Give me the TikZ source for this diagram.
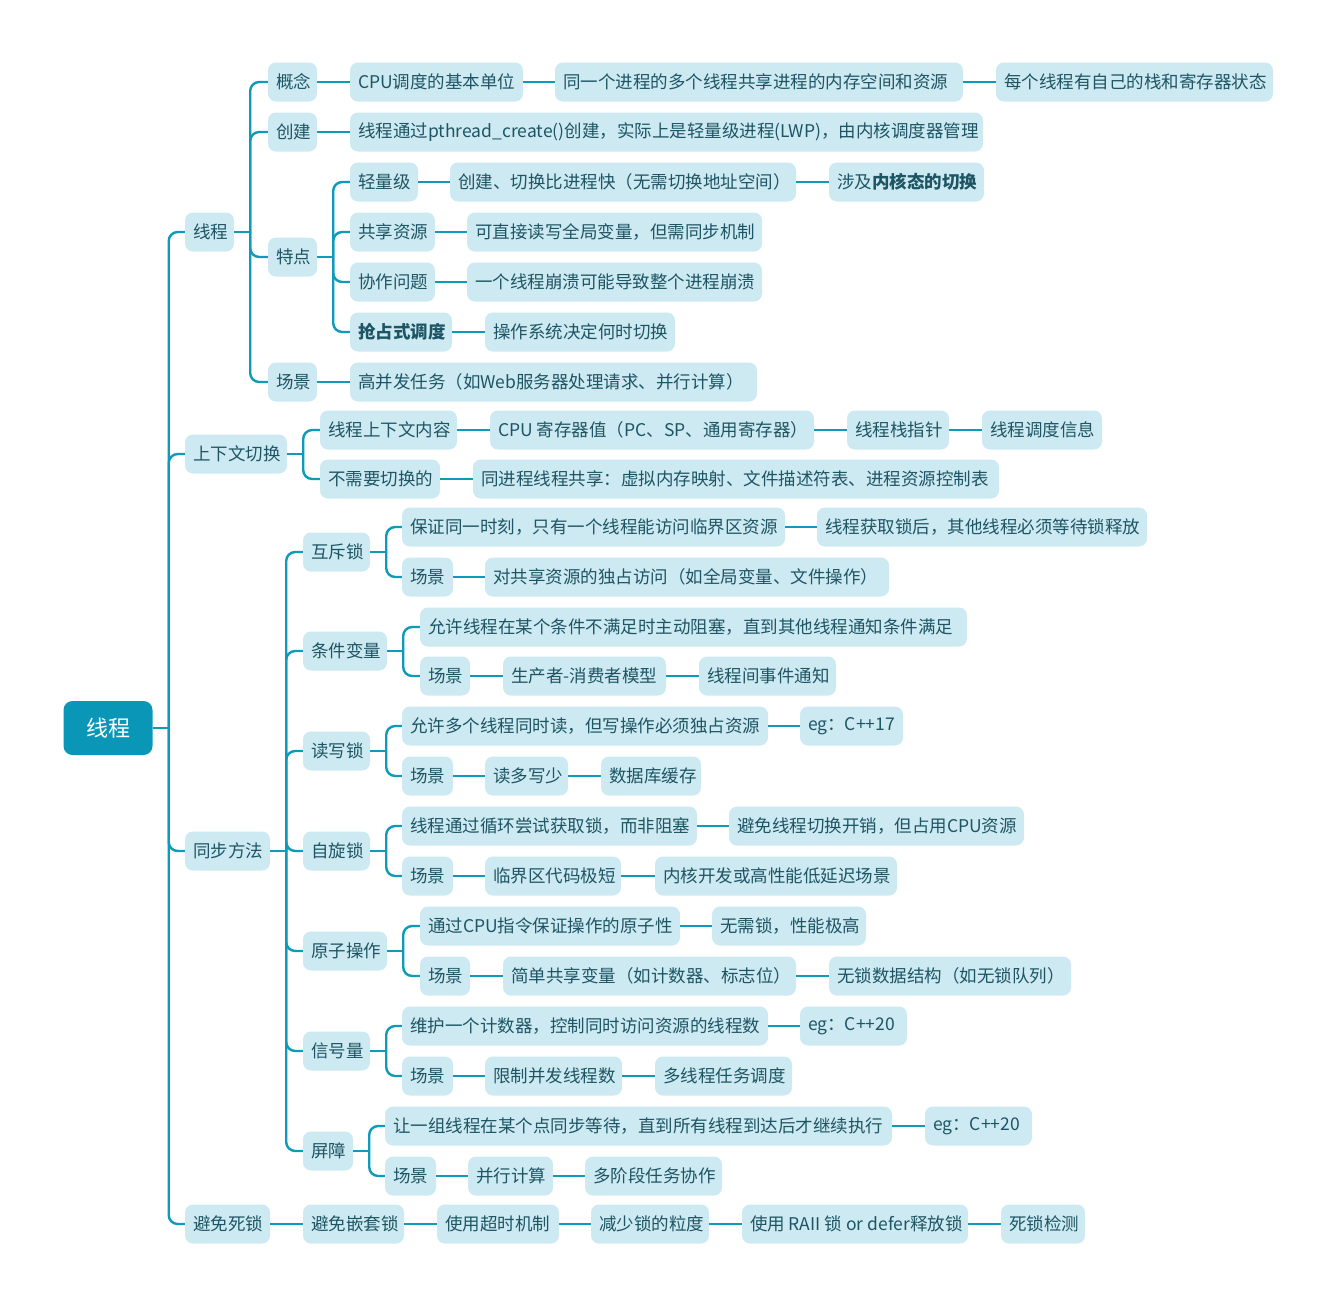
\documentclass[tikz,border=0pt]{standalone}
\usepackage{fontspec}
\setmainfont{Noto Sans CJK SC}
\definecolor{linec}{HTML}{0E9BBA}
\definecolor{boxfill}{HTML}{CDEAF2}
\definecolor{txt}{HTML}{1E5564}
\definecolor{rootfill}{HTML}{0A97B7}
\newcommand\mnode[5]{\node[box] (#1) at ({(#2+#3)/2},#4) {\makebox[\dimexpr #3pt-#2pt-16pt\relax][l]{#5}};}
\newcommand\fork[2]{%
  \coordinate (#1-j) at ([xshift=16pt]#1.east);
  \draw[conn] (#1.east) -- (#1-j);
  \foreach \c in {#2} {\draw[conn, rounded corners=9pt] (#1-j) |- (\c.west);}%
}
\newcommand\chain[1]{\foreach \a/\b in {#1} {\draw[conn] (\a.east) -- (\b.west);}}
\begin{document}
\begin{tikzpicture}[x=1pt,y=-1pt,
  box/.style={fill=boxfill, rounded corners=8pt, minimum height=39pt, inner xsep=8pt, inner ysep=0pt,
    text=txt, font=\fontsize{17.5}{20}\selectfont},
  rootbox/.style={fill=rootfill, rounded corners=9pt, minimum width=89pt, minimum height=54pt,
    text=white, font=\fontsize{22}{26}\selectfont},
  conn/.style={draw=linec, line width=2.4pt}]
\useasboundingbox[fill=white] (0,0) rectangle (1336,1307);

% root
\node[rootbox] (R) at (108,728) {线程};

% level 1
\mnode{A}{185}{234}{232}{线程}
\mnode{B}{185}{287}{454}{上下文切换}
\mnode{C}{185}{270}{851}{同步方法}
\mnode{D}{185}{270}{1224}{避免死锁}

% under A
\mnode{A1}{268}{317}{82}{概念}
\mnode{A1a}{350}{523}{82}{CPU调度的基本单位}
\mnode{A1b}{555}{963}{82}{同一个进程的多个线程共享进程的内存空间和资源}
\mnode{A1c}{996}{1273}{82}{每个线程有自己的栈和寄存器状态}
\mnode{A2}{268}{317}{132}{创建}
\mnode{A2a}{350}{983}{132}{线程通过pthread\_create()创建，实际上是轻量级进程(LWP)，由内核调度器管理}
\mnode{A3}{268}{317}{257}{特点}
\mnode{A3a}{350}{418}{182}{轻量级}
\mnode{A3a1}{450}{796}{182}{创建、切换比进程快（无需切换地址空间）}
\mnode{A3a2}{829}{984}{182}{涉及\textbf{内核态的切换}}
\mnode{A3b}{350}{435}{232}{共享资源}
\mnode{A3b1}{467}{762}{232}{可直接读写全局变量，但需同步机制}
\mnode{A3c}{350}{435}{282}{协作问题}
\mnode{A3c1}{467}{762}{282}{一个线程崩溃可能导致整个进程崩溃}
\mnode{A3d}{350}{452}{332}{\textbf{抢占式调度}}
\mnode{A3d1}{485}{675}{332}{操作系统决定何时切换}
\mnode{A4}{268}{317}{382}{场景}
\mnode{A4a}{350}{757}{382}{高并发任务（如Web服务器处理请求、并行计算）}

% under B
\mnode{B1}{320}{457}{430}{线程上下文内容}
\mnode{B1a}{490}{814}{430}{CPU 寄存器值（PC、SP、通用寄存器）}
\mnode{B1b}{847}{949}{430}{线程栈指针}
\mnode{B1c}{982}{1102}{430}{线程调度信息}
\mnode{B2}{320}{440}{479}{不需要切换的}
\mnode{B2a}{473}{999}{479}{同进程线程共享：虚拟内存映射、文件描述符表、进程资源控制表}

% under C
\mnode{C1}{303}{370}{552}{互斥锁}
\mnode{C1a}{402}{785}{527}{保证同一时刻，只有一个线程能访问临界区资源}
\mnode{C1b}{817}{1147}{527}{线程获取锁后，其他线程必须等待锁释放}
\mnode{C1c}{402}{453}{577}{场景}
\mnode{C1d}{485}{889}{577}{对共享资源的独占访问（如全局变量、文件操作）}

\mnode{C2}{303}{387}{651}{条件变量}
\mnode{C2a}{420}{967}{627}{允许线程在某个条件不满足时主动阻塞，直到其他线程通知条件满足}
\mnode{C2b}{420}{470}{676}{场景}
\mnode{C2c}{503}{666}{676}{生产者-消费者模型}
\mnode{C2d}{699}{836}{676}{线程间事件通知}

\mnode{C3}{303}{370}{751}{读写锁}
\mnode{C3a}{402}{768}{726}{允许多个线程同时读，但写操作必须独占资源}
\mnode{C3b}{800}{903}{726}{eg：C++17}
\mnode{C3c}{402}{453}{776}{场景}
\mnode{C3d}{485}{568}{776}{读多写少}
\mnode{C3e}{601}{701}{776}{数据库缓存}

\mnode{C4}{303}{370}{851}{自旋锁}
\mnode{C4a}{402}{697}{826}{线程通过循环尝试获取锁，而非阻塞}
\mnode{C4b}{729}{1024}{826}{避免线程切换开销，但占用CPU资源}
\mnode{C4c}{402}{453}{876}{场景}
\mnode{C4d}{485}{621}{876}{临界区代码极短}
\mnode{C4e}{655}{897}{876}{内核开发或高性能低延迟场景}

\mnode{C5}{303}{387}{951}{原子操作}
\mnode{C5a}{420}{680}{926}{通过CPU指令保证操作的原子性}
\mnode{C5b}{712}{866}{926}{无需锁，性能极高}
\mnode{C5c}{420}{470}{976}{场景}
\mnode{C5d}{503}{796}{976}{简单共享变量（如计数器、标志位）}
\mnode{C5e}{829}{1071}{976}{无锁数据结构（如无锁队列）}

\mnode{C6}{303}{370}{1051}{信号量}
\mnode{C6a}{402}{768}{1026}{维护一个计数器，控制同时访问资源的线程数}
\mnode{C6b}{800}{907}{1026}{eg：C++20}
\mnode{C6c}{402}{453}{1076}{场景}
\mnode{C6d}{485}{622}{1076}{限制并发线程数}
\mnode{C6e}{655}{792}{1076}{多线程任务调度}

\mnode{C7}{303}{353}{1151}{屏障}
\mnode{C7a}{385}{892}{1126}{让一组线程在某个点同步等待，直到所有线程到达后才继续执行}
\mnode{C7b}{925}{1032}{1126}{eg：C++20}
\mnode{C7c}{385}{436}{1176}{场景}
\mnode{C7d}{468}{553}{1176}{并行计算}
\mnode{C7e}{585}{722}{1176}{多阶段任务协作}

% under D
\mnode{D1}{303}{404}{1224}{避免嵌套锁}
\mnode{D2}{437}{559}{1224}{使用超时机制}
\mnode{D3}{591}{709}{1224}{减少锁的粒度}
\mnode{D4}{742}{968}{1224}{使用 RAII 锁 or defer释放锁}
\mnode{D5}{1001}{1085}{1224}{死锁检测}

% connectors
\fork{R}{A,B,C,D}
\fork{A}{A1,A2,A3,A4}
\fork{A3}{A3a,A3b,A3c,A3d}
\fork{B}{B1,B2}
\fork{C}{C1,C2,C3,C4,C5,C6,C7}
\fork{C1}{C1a,C1c}
\fork{C2}{C2a,C2b}
\fork{C3}{C3a,C3c}
\fork{C4}{C4a,C4c}
\fork{C5}{C5a,C5c}
\fork{C6}{C6a,C6c}
\fork{C7}{C7a,C7c}
\chain{A1/A1a,A1a/A1b,A1b/A1c,A2/A2a,A3a/A3a1,A3a1/A3a2,A3b/A3b1,A3c/A3c1,A3d/A3d1,A4/A4a}
\chain{B1/B1a,B1a/B1b,B1b/B1c,B2/B2a}
\chain{C1a/C1b,C1c/C1d,C2b/C2c,C2c/C2d,C3a/C3b,C3c/C3d,C3d/C3e,C4a/C4b,C4c/C4d,C4d/C4e}
\chain{C5a/C5b,C5c/C5d,C5d/C5e,C6a/C6b,C6c/C6d,C6d/C6e,C7a/C7b,C7c/C7d,C7d/C7e}
\chain{D/D1,D1/D2,D2/D3,D3/D4,D4/D5}
\end{tikzpicture}
\end{document}
